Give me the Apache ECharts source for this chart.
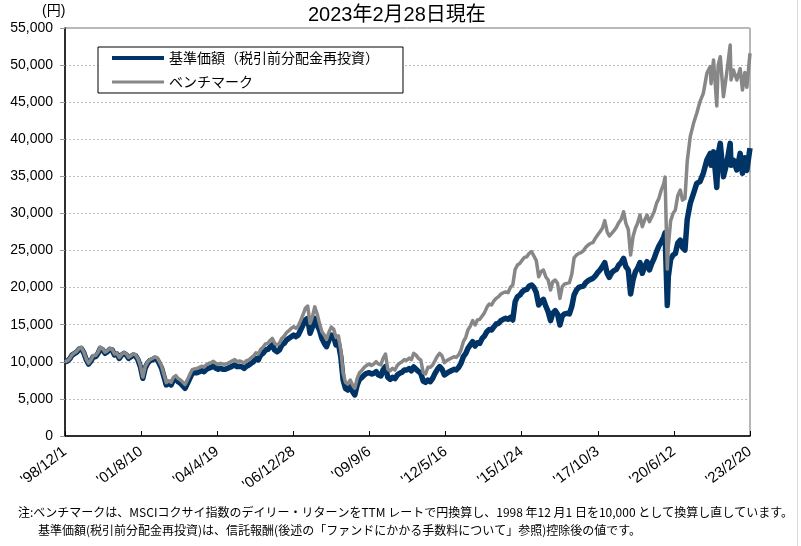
<!DOCTYPE html>
<html>
<head>
<meta charset="utf-8">
<script src="https://cdn.jsdelivr.net/npm/echarts@6/dist/echarts.min.js"></script>
<style>
html,body{margin:0;padding:0;background:#fff;}
#chart{width:801px;height:546px;}
</style>
</head>
<body>
<div id="chart"></div>
<script>
// 横軸ラベル（983日おき）
var xLabels = ["'98/12/1", "'01/8/10", "'04/4/19", "'06/12/28", "'09/9/6",
               "'12/5/16", "'15/1/24", "'17/10/3", "'20/6/12", "'23/2/20"];
var tickDays = 983;
var yMax = 55000, yStep = 5000;
var seriesNames = ['基準価額（税引前分配金再投資）', 'ベンチマーク'];

// 月次 1998/12 - 2019/12（各月初）
var fundMonthly = [
  10000,
  10100, 10400, 10900, 11100, 11300, 11700, 11800, 11200, 10300, 9700, 10100, 10700,
  10700, 11150, 11800, 11600, 11150, 11370, 11680, 11590, 10920, 11050, 10470, 10900,
  11140, 10920, 10470, 10690, 10920, 10800, 10250, 9340, 7780, 9130, 9800, 10150,
  10250, 10470, 10360, 9800, 9130, 8000, 6880, 7100, 6880, 7550, 7780, 7320,
  7100, 6750, 6430, 7100, 7780, 8450, 8540, 8540, 8670, 8810, 8670, 8990,
  9130, 9260, 9440, 9130, 8990, 9130, 8990, 8990, 9130, 9260, 9440, 9570,
  9350, 9400, 9350, 9120, 9400, 9570, 9800, 10020, 10470, 10250, 10900, 11140,
  11590, 11680, 11950, 12270, 11590, 11370, 11590, 12270, 12490, 12940, 13160, 13390,
  13610, 13390, 13610, 14290, 14960, 15640, 15860, 13840, 14730, 15860, 14960, 14290,
  13160, 12490, 12040, 12940, 13610, 13390, 12270, 12490, 10690, 7550, 6420, 6200,
  6650, 5980, 5530, 6880, 7640, 7900, 8220, 8450, 8540, 8360, 8450, 8670,
  8220, 8090, 8900, 9350, 7900, 7640, 7900, 7730, 8220, 8450, 8600, 8900,
  8900, 9100, 8800, 9300, 9000, 8700, 8450, 7410, 7230, 7550, 7320, 7770,
  8450, 8990, 9350, 8990, 8220, 8450, 8670, 8810, 8990, 8900, 9260, 9800,
  10690, 11140, 11820, 12270, 12710, 12130, 12580, 12490, 13160, 13480, 14060, 14370,
  14290, 14740, 15100, 15190, 15550, 15730, 15860, 15730, 16000, 15640, 18110, 18780,
  19000, 19450, 19680, 19770, 20220, 20350, 20040, 19320, 17660, 18110, 18420, 17520,
  16760, 15550, 16540, 16900, 16450, 14960, 16180, 16450, 16540, 16450, 17430, 19000,
  19680, 20040, 20130, 20220, 20670, 20940, 21120, 21250, 21570, 22020, 22380, 22830,
  23370, 21930, 21390, 22020, 22290, 22470, 23050, 23370, 23950, 22830, 22380, 19140,
  21030, 22150, 22600, 23370, 21930, 22830, 23500, 22380, 23280, 23950, 24850, 25610
];
var benchMonthly = [
  10000,
  10150, 10450, 10950, 11200, 11400, 11800, 11950, 11300, 10400, 9800, 10250, 10850,
  10850, 11300, 11950, 11750, 11300, 11500, 11800, 11700, 11050, 11150, 10600, 11000,
  11250, 11050, 10600, 10850, 11050, 10950, 10400, 9500, 7950, 9300, 9950, 10300,
  10450, 10650, 10600, 10050, 9400, 8300, 7200, 7450, 7250, 7900, 8150, 7750,
  7550, 7250, 6950, 7600, 8300, 8950, 9050, 9100, 9250, 9400, 9300, 9600,
  9780, 9900, 10080, 9800, 9650, 9800, 9700, 9680, 9800, 9950, 10150, 10300,
  10020, 10110, 10020, 9800, 10160, 10250, 10560, 10780, 11230, 11050, 11680, 11950,
  12400, 12490, 12850, 13160, 12490, 12270, 12490, 13160, 13480, 13930, 14200, 14510,
  14730, 14510, 14820, 15550, 16310, 17210, 17520, 15190, 16090, 17430, 16450, 15190,
  14060, 13610, 13030, 14000, 14700, 14400, 13300, 13500, 11600, 8450, 7230, 7000,
  7550, 6850, 6450, 7770, 8540, 8850, 9260, 9520, 9710, 9520, 9710, 10020,
  9710, 9570, 10470, 11050, 8990, 8810, 9120, 8900, 9520, 9800, 10000, 10300,
  10200, 10500, 10300, 11150, 10900, 10470, 10250, 8540, 8360, 9260, 9260, 9570,
  10160, 10780, 11140, 10780, 9890, 10160, 10340, 10520, 10690, 10600, 10920, 11590,
  12710, 13300, 14290, 14820, 15550, 14960, 15640, 15730, 16180, 16630, 17340, 17790,
  17660, 18240, 18550, 18780, 19140, 19320, 19410, 19320, 20040, 20350, 22470, 23050,
  23280, 23730, 24080, 24170, 24620, 24850, 24260, 23640, 21480, 22150, 22380, 21480,
  21030, 19680, 20800, 21030, 20580, 18550, 20130, 20490, 20580, 20670, 21800, 24000,
  24400, 24620, 24710, 24980, 25430, 25750, 25970, 26060, 26640, 27100, 27540, 28000,
  29030, 27540, 26960, 27320, 27680, 28130, 28760, 29210, 30240, 28670, 27860, 24400,
  26870, 28000, 28670, 29790, 28220, 29120, 29790, 28890, 29570, 30240, 31360, 32030
];

// 2020/1 以降
var lateDates = [
  '2020-01-01', '2020-02-01', '2020-02-19', '2020-03-19', '2020-04-01', '2020-05-01',
  '2020-06-01', '2020-07-01', '2020-08-01', '2020-09-03', '2020-10-01', '2020-11-02',
  '2020-12-01', '2021-01-09', '2021-02-21', '2021-04-03', '2021-05-15', '2021-06-27',
  '2021-08-12', '2021-09-24', '2021-10-05', '2021-11-06', '2021-12-18', '2022-01-05',
  '2022-02-01', '2022-03-14', '2022-04-25', '2022-06-09', '2022-06-20', '2022-07-21',
  '2022-09-03', '2022-10-16', '2022-11-15', '2022-12-15', '2023-01-10', '2023-02-20'
];
var fundLate = [
  26190, 26800, 27400, 17600, 21480, 23800,
  24400, 24600, 26000, 26400, 25400, 25070,
  29200, 31360, 32710, 34060, 34290, 35410,
  37200, 38100, 36500, 38300, 33500, 38000,
  39450, 34960, 36750, 39450, 36500, 37200,
  35860, 38100, 35410, 37500, 35800, 38800
];
var benchLate = [
  33160, 34000, 34900, 22500, 25520, 29000,
  30000, 30470, 32400, 33160, 31800, 32000,
  37000, 40350, 42150, 43500, 45070, 46190,
  48890, 49790, 47500, 50690, 44500, 50000,
  51130, 45740, 48890, 52710, 48000, 49340,
  47990, 49500, 46640, 49000, 47000, 51600
];

var origin = Date.UTC(1998, 11, 1);
function dayOf(t) { return Math.round((t - origin) / 86400000); }

function buildSeries(monthly, late) {
  var out = [];
  monthly.forEach(function (v, i) {
    var y = 1998 + Math.floor((11 + i) / 12), m = (11 + i) % 12;
    out.push([dayOf(Date.UTC(y, m, 1)), v]);
  });
  late.forEach(function (v, i) {
    out.push([dayOf(new Date(lateDates[i]).getTime()), v]);
  });
  return out;
}

var fundData = buildSeries(fundMonthly, fundLate);
var benchData = buildSeries(benchMonthly, benchLate);
var lastDay = tickDays * (xLabels.length - 1);

var font = "'Liberation Sans', 'Noto Sans CJK JP', sans-serif";
var jp = "'Noto Sans CJK JP', sans-serif";
var fundColor = '#003366', benchColor = '#878787';

var chart = echarts.init(document.getElementById('chart'));
var option = {
  animation: false,
  backgroundColor: '#fff',
  textStyle: { fontFamily: font, color: '#000' },
  grid: {
    left: 65, right: 51, top: 28, bottom: 110,
    show: true, borderColor: '#6e6e6e', borderWidth: 1
  },
  legend: {
    orient: 'vertical',
    left: 98, top: 47,
    itemWidth: 52, itemHeight: 14, itemGap: 10,
    padding: [4, 24, 4, 14],
    borderColor: '#000', borderWidth: 1,
    backgroundColor: '#fff',
    selectedMode: false,
    symbolKeepAspect: true,
    textStyle: { fontSize: 14, color: '#000', fontFamily: jp },
    data: [
      { name: seriesNames[0], icon: 'path://M0,0H52V4H0Z', itemStyle: { color: fundColor } },
      { name: seriesNames[1], icon: 'path://M0,0H52V3H0Z', itemStyle: { color: benchColor } }
    ]
  },
  xAxis: {
    type: 'value',
    min: 0, max: lastDay, interval: tickDays,
    axisLine: { lineStyle: { color: '#000', width: 1.5 } },
    axisTick: { inside: true, length: 5, lineStyle: { color: '#000' } },
    axisLabel: {
      rotate: 37, fontSize: 15, color: '#000', margin: 14,
      formatter: function (v) { return xLabels[Math.round(v / tickDays)]; }
    },
    splitLine: { show: false }
  },
  yAxis: {
    type: 'value',
    min: 0, max: yMax, interval: yStep,
    axisLine: { show: true, lineStyle: { color: '#000', width: 1.5 } },
    axisTick: { show: true, length: 5, lineStyle: { color: '#999' } },
    axisLabel: {
      fontSize: 14, color: '#000', margin: 12,
      formatter: function (v) { return v.toLocaleString('en-US'); }
    },
    splitLine: { lineStyle: { color: '#bdbdbd', type: [2, 2] } }
  },
  series: [
    {
      name: seriesNames[0], type: 'line', data: fundData,
      symbol: 'none', showSymbol: false, z: 2,
      lineStyle: { color: fundColor, width: 5.5, join: 'round' },
      itemStyle: { color: fundColor }
    },
    {
      name: seriesNames[1], type: 'line', data: benchData,
      symbol: 'none', showSymbol: false, z: 3,
      lineStyle: { color: benchColor, width: 3.5, join: 'round' },
      itemStyle: { color: benchColor }
    }
  ],
  graphic: [
    {
      type: 'text', left: 308, top: 5,
      style: { text: '2023年2月28日現在', font: '20px ' + font, fill: '#000' }
    },
    {
      type: 'text', left: 42, top: 4,
      style: { text: '(円)', font: '14px ' + font, fill: '#000' }
    },
    {
      type: 'text', left: 18, top: 506,
      style: {
        text: '注:ベンチマークは、MSCIコクサイ指数のデイリー・リターンをTTM レートで円換算し、1998 年12 月1 日を10,000 として換算し直しています。',
        font: '12px ' + jp, fill: '#000'
      }
    },
    {
      type: 'text', left: 38, top: 524,
      style: {
        text: '基準価額(税引前分配金再投資)は、信託報酬(後述の「ファンドにかかる手数料について」参照)控除後の値です。',
        font: '12px ' + jp, fill: '#000'
      }
    },
    {
      type: 'line', shape: { x1: 797.5, y1: 0, x2: 797.5, y2: 546 },
      style: { stroke: '#d3dae3', lineWidth: 1 }
    }
  ]
};
chart.setOption(option);
</script>
</body>
</html>
